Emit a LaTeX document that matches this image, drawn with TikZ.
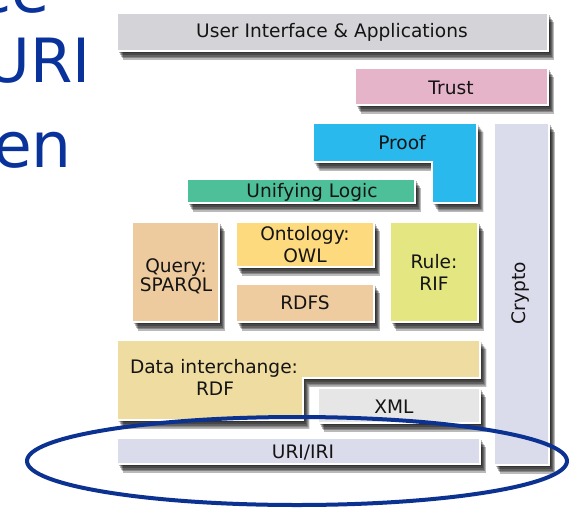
\documentclass[tikz,border=0pt]{standalone}
\usepackage{fontspec}
\setmainfont{DejaVu Sans}
\definecolor{titleblue}{RGB}{10,50,155}
\definecolor{ovalblue}{RGB}{12,50,145}
\definecolor{uigray}{RGB}{212,212,216}
\definecolor{trustpink}{RGB}{229,180,200}
\definecolor{proofcyan}{RGB}{41,185,236}
\definecolor{logicgreen}{RGB}{77,192,154}
\definecolor{querytan}{RGB}{237,203,158}
\definecolor{ontoyellow}{RGB}{253,218,125}
\definecolor{rdfstan}{RGB}{238,204,159}
\definecolor{ruleyellow}{RGB}{227,230,129}
\definecolor{rdfsand}{RGB}{239,220,160}
\definecolor{xmlgray}{RGB}{230,230,230}
\definecolor{urililac}{RGB}{218,220,235}
\definecolor{labeltext}{RGB}{20,20,20}
\tikzset{
  shadowpart/.style args={#1/#2}{preaction={fill=black, opacity=0.27,
      draw=none, transform canvas={xshift=#1, yshift=#2}}},
  layer/.style={fill=#1, draw=white, line width=2.4pt,
    shadowpart=1.5pt/-2pt, shadowpart=3pt/-4pt, shadowpart=4.2pt/-5.8pt,
    shadowpart=5.4pt/-7.4pt, shadowpart=6.4pt/-8.8pt},
  lbl/.style={font=\fontsize{18.6}{22}\selectfont, text=labeltext,
              inner sep=0pt, anchor=base},
  bigtxt/.style={font=\fontsize{#1}{#1}\selectfont, text=titleblue,
                 inner sep=0pt, anchor=base east},
}
\begin{document}
\begin{tikzpicture}[x=1pt,y=-1pt]
\useasboundingbox (0,0) rectangle (571,507);
\begin{scope}
\clip (0,0) rectangle (571,507);
\fill[white] (0,0) rectangle (571,507);

% left title fragments
\node[bigtxt=62] (tce) at (50,12) {ce};
\node[bigtxt=61] (turi) at (91,82) {URI};
\node[bigtxt=63] (ten) at (72,167) {en};

% layers, top to bottom
\path[layer=uigray] (117,13) rectangle (548,51);
\node[lbl] (ui) at (332,37) {User Interface \& Applications};

\path[layer=trustpink] (355,68) rectangle (548,105);
\node[lbl] (trust) at (451,94) {Trust};

\path[layer=proofcyan] (313,123) -- (477,123) -- (477,203) -- (432,203)
  -- (432,162) -- (313,162) -- cycle;
\node[lbl] (proof) at (402,149) {Proof};

\path[layer=urililac] (494,123) rectangle (549,465);
\node[font=\fontsize{18.6}{22}\selectfont, text=labeltext, inner sep=0pt,
      rotate=90] (crypto) at (521,293) {Crypto};

\path[layer=logicgreen] (187,179) rectangle (415,203);
\node[lbl] (logic) at (312,197) {Unifying Logic};

\path[layer=querytan] (132,222) rectangle (219,322);
\node[lbl] (query1) at (176,272) {Query:};
\node[lbl] (query2) at (176,291) {SPARQL};

\path[layer=ontoyellow] (236,222) rectangle (374,267);
\node[lbl] (onto1) at (305,240) {Ontology:};
\node[lbl] (onto2) at (305,262) {OWL};

\path[layer=rdfstan] (236,284) rectangle (374,322);
\node[lbl] (rdfs) at (305,309) {RDFS};

\path[layer=ruleyellow] (390,222) rectangle (478,322);
\node[lbl] (rule1) at (434,268) {Rule:};
\node[lbl] (rule2) at (434,290) {RIF};

\path[layer=rdfsand] (117,340) -- (480,340) -- (480,378) -- (303,378)
  -- (303,420) -- (117,420) -- cycle;
\node[lbl] (rdf1) at (214,373) {Data interchange:};
\node[lbl] (rdf2) at (215,395) {RDF};

\path[layer=xmlgray] (318,388) rectangle (480,423);
\node[lbl] (xml) at (394,413) {XML};

\path[layer=urililac] (117,438) rectangle (480,464);
\node[lbl] (uri) at (303,458) {URI/IRI};

% highlight oval
\draw[ovalblue, line width=4pt] (297,461) ellipse [x radius=270, y radius=44];
\end{scope}
\end{tikzpicture}
\end{document}
